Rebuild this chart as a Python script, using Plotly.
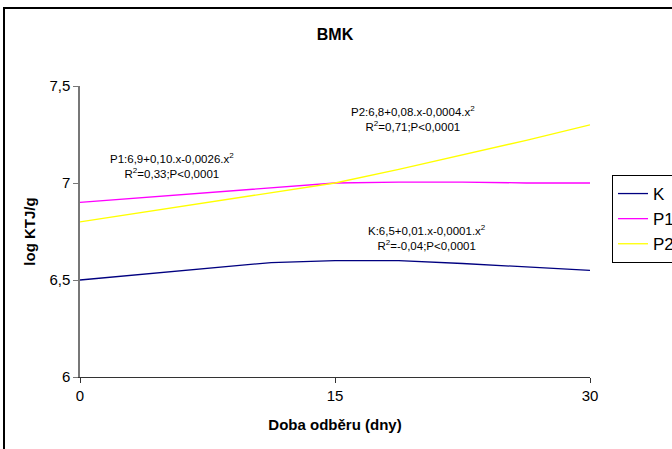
import plotly.graph_objects as go

days = [0, 3.75, 7.5, 11.25, 15, 18.75, 22.5, 26.25, 30]
k_vals = [6.5, 6.53, 6.56, 6.59, 6.6, 6.6, 6.585, 6.567, 6.55]
p1_vals = [6.9, 6.925, 6.95, 6.975, 7.0, 7.005, 7.005, 7.0, 7.0]
p2_vals = [6.8, 6.85, 6.9, 6.95, 7.0, 7.07, 7.145, 7.22, 7.3]

x_ticks = [0, 15, 30]
y_ticks = [6, 6.5, 7, 7.5]
y_ticktext = ["6", "6,5", "7", "7,5"]

series = [("K", k_vals, "#000080"), ("P1", p1_vals, "#FF00FF"), ("P2", p2_vals, "#FFFF00")]

eq_notes = [
    (5.4, 7.088, "P1:6,9+0,10.x-0,0026.x<sup>2</sup><br>R<sup>2</sup>=0,33;P<0,0001"),
    (19.6, 7.335, "P2:6,8+0,08.x-0,0004.x<sup>2</sup><br>R<sup>2</sup>=0,71;P<0,0001"),
    (20.4, 6.72, "K:6,5+0,01.x-0,0001.x<sup>2</sup><br>R<sup>2</sup>=-0,04;P<0,0001"),
]

FONT = "Liberation Sans, Arial, sans-serif"

fig = go.Figure()
for name, vals, col in series:
    fig.add_trace(go.Scatter(x=days, y=vals, mode="lines", name=name,
                             line=dict(color=col, width=1.3)))

for x, y, t in eq_notes:
    fig.add_annotation(x=x, y=y, text=t, showarrow=False, xref="x", yref="y",
                       font=dict(family=FONT, size=11.5, color="#000"), align="center")

fig.update_layout(
    width=672, height=449,
    margin=dict(l=80, r=82, t=86, b=72),
    paper_bgcolor="white", plot_bgcolor="white",
    font=dict(family=FONT, color="#000"),
    title=dict(text="<b>BMK</b>", x=335 / 672, xanchor="center", y=1 - 34 / 449, yanchor="middle",
               font=dict(family=FONT, size=16, color="#000")),
    showlegend=True,
    legend=dict(xref="container", yref="container", x=612 / 672, y=1 - 175 / 449,
                xanchor="left", yanchor="top",
                bordercolor="#000", borderwidth=1, bgcolor="white",
                font=dict(family=FONT, size=17, color="#000"),
                tracegroupgap=0, itemwidth=30),
    shapes=[dict(type="rect", xref="paper", yref="paper",
                 x0=(4 - 80) / 510, x1=(700 - 80) / 510,
                 y0=(377 - 470) / 291, y1=(377 - 8) / 291,
                 line=dict(color="#000", width=2), fillcolor="rgba(0,0,0,0)", layer="below")],
)

fig.update_xaxes(range=[0, 30], tickvals=x_ticks, ticks="outside", ticklen=5,
                 tickcolor="#333", showline=True, linecolor="#333", linewidth=1,
                 showgrid=False, zeroline=False,
                 tickfont=dict(family=FONT, size=15, color="#000"),
                 title=dict(text="<b>Doba odběru (dny)</b>", standoff=16,
                            font=dict(family=FONT, size=15, color="#000")))
fig.update_yaxes(range=[6, 7.5], tickvals=y_ticks, ticktext=y_ticktext, ticks="outside", ticklen=5,
                 tickcolor="#777", showline=True, linecolor="#777", linewidth=1.5,
                 showgrid=False, zeroline=False,
                 tickfont=dict(family=FONT, size=15, color="#000"),
                 title=dict(text="<b>log KTJ/g</b>", standoff=10,
                            font=dict(family=FONT, size=15, color="#000")))

fig.write_html("out.html")
